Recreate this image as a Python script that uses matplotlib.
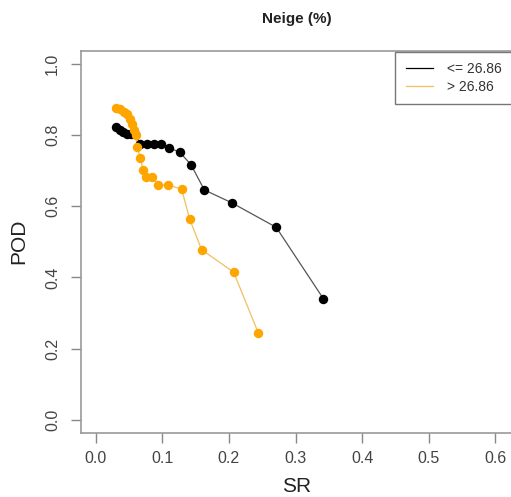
import matplotlib.pyplot as plt
from matplotlib.lines import Line2D

plt.rcParams['font.family'] = ['Liberation Sans', 'DejaVu Sans']

# threshold groups
labels = ["<= 26.86", "> 26.86"]

sr_low = [0.031, 0.036, 0.041, 0.047, 0.053, 0.059, 0.067, 0.077, 0.087,
          0.098, 0.110, 0.126, 0.143, 0.163, 0.204, 0.271, 0.342]
pod_low = [0.824, 0.815, 0.809, 0.803, 0.803, 0.803, 0.775, 0.775, 0.775,
           0.775, 0.764, 0.752, 0.717, 0.646, 0.610, 0.541, 0.340]

sr_high = [0.030, 0.036, 0.042, 0.047, 0.051, 0.054, 0.057, 0.060, 0.062,
           0.067, 0.071, 0.076, 0.085, 0.094, 0.109, 0.129, 0.141, 0.159,
           0.207, 0.244]
pod_high = [0.875, 0.873, 0.866, 0.858, 0.845, 0.830, 0.815, 0.800, 0.766,
            0.735, 0.702, 0.681, 0.681, 0.660, 0.660, 0.648, 0.564, 0.478,
            0.415, 0.245]

xticks = [0.0, 0.1, 0.2, 0.3, 0.4, 0.5, 0.6]
yticks = [0.0, 0.2, 0.4, 0.6, 0.8, 1.0]

fig = plt.figure(figsize=(5.11, 4.97), dpi=100)
ax = fig.add_axes([0.158, 0.129, 0.845, 0.769])

ax.plot(sr_low, pod_low, color='#555555', lw=0.9, zorder=2)
ax.plot(sr_low, pod_low, 'o', color='black', ms=6.8, mec='none', zorder=3)
ax.plot(sr_high, pod_high, color='#F0C060', lw=0.9, zorder=2)
ax.plot(sr_high, pod_high, 'o', color='#FFA500', ms=6.8, mec='none', zorder=3)

ax.set_xlim(-0.0226, 0.626)
ax.set_ylim(-0.0365, 1.037)

ax.set_xticks(xticks)
ax.set_yticks(yticks)
ax.set_xticklabels([f"{v:.1f}" for v in xticks])
ax.set_yticklabels([f"{v:.1f}" for v in yticks], rotation=90, va='center')
ax.tick_params(axis='both', colors='#888888', labelcolor='#444444',
               labelsize=11.5, length=7, width=1, direction='out')
ax.tick_params(axis='y', pad=8)
ax.tick_params(axis='x', pad=6)

for s in ax.spines.values():
    s.set_color('#999999')
    s.set_linewidth(1.2)
ax.spines['right'].set_visible(False)

ax.set_xlabel("SR", fontsize=15, color='#222222', labelpad=8)
ax.set_ylabel("POD", fontsize=15, color='#222222', labelpad=12)
ax.set_title("Neige (%)", fontsize=11, fontweight='bold', color='#222222', pad=20)

handles = [Line2D([], [], color='black', lw=0.9),
           Line2D([], [], color='#F0C060', lw=0.9)]
leg = ax.legend(handles, labels, loc='upper right', bbox_to_anchor=(1.0, 0.997),
                fontsize=10, frameon=True, fancybox=False, handlelength=2.0,
                handletextpad=1.0, borderpad=0.75, labelspacing=0.25,
                borderaxespad=0.0)
leg.get_frame().set_edgecolor('#555555')
leg.get_frame().set_linewidth(1.0)
for t in leg.get_texts():
    t.set_color('#333333')

fig.savefig("out.png", dpi=100)
